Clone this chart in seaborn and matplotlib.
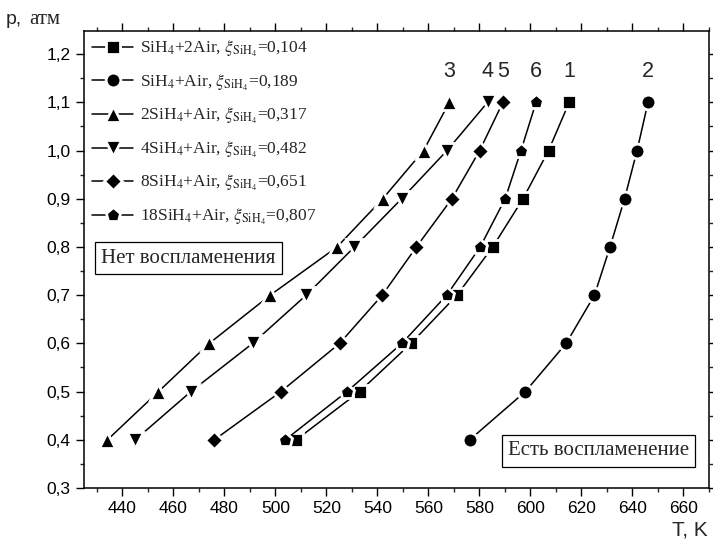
import numpy as np
import pandas as pd
import matplotlib
matplotlib.use("Agg")
import matplotlib.pyplot as plt
import seaborn as sns
from matplotlib.ticker import MultipleLocator, FuncFormatter

# ---- data ----
pressure = [0.4, 0.5, 0.6, 0.7, 0.8, 0.9, 1.0, 1.1]
T_1 = [508.2, 533.0, 553.2, 571.2, 585.2, 597.1, 607.1, 615.2]   # SiH4+2Air
T_2 = [576.2, 598.0, 614.0, 625.1, 631.2, 636.9, 641.8, 646.1]   # SiH4+Air
T_3 = [434.2, 454.2, 474.1, 498.0, 524.2, 542.1, 558.1, 568.2]   # 2SiH4+Air
T_4 = [445.1, 466.9, 491.1, 512.1, 531.0, 549.5, 567.3, 583.2]   # 4SiH4+Air
T_5 = [476.1, 502.2, 525.2, 541.9, 555.3, 569.2, 580.1, 589.2]   # 8SiH4+Air
T_6 = [503.9, 528.1, 549.6, 567.2, 580.3, 590.1, 596.3, 602.2]   # 18SiH4+Air
series_T = [T_1, T_2, T_3, T_4, T_5, T_6]
legend_labels = [
    r"SiH$_4$+2Air, $\xi_{\mathrm{SiH}_4}$=0,104",
    r"SiH$_4$+Air, $\xi_{\mathrm{SiH}_4}$=0,189",
    r"2SiH$_4$+Air, $\xi_{\mathrm{SiH}_4}$=0,317",
    r"4SiH$_4$+Air, $\xi_{\mathrm{SiH}_4}$=0,482",
    r"8SiH$_4$+Air, $\xi_{\mathrm{SiH}_4}$=0,651",
    r"18SiH$_4$+Air, $\xi_{\mathrm{SiH}_4}$=0,807",
]
curve_numbers = ["1", "2", "3", "4", "5", "6"]
series_markers = ["s", "o", "^", "v", "D", "p"]
x_ticks = [440, 460, 480, 500, 520, 540, 560, 580, 600, 620, 640, 660]
y_ticks = [0.3, 0.4, 0.5, 0.6, 0.7, 0.8, 0.9, 1.0, 1.1, 1.2]

rows = []
for k, Ts in enumerate(series_T):
    for p, t in zip(pressure, Ts):
        rows.append({"T": t, "p": p, "series": curve_numbers[k]})
df = pd.DataFrame(rows)

sns.set_style("ticks")
plt.rcParams["font.family"] = ["Liberation Sans", "DejaVu Sans"]
plt.rcParams["mathtext.fontset"] = "stix"

fig = plt.figure(figsize=(7.13, 5.46), dpi=100)
ax = fig.add_axes([84/713, 1-488/546, (709-84)/713, (488-31)/546])

sns.lineplot(data=df, x="T", y="p", hue="series", style="series",
             hue_order=curve_numbers, style_order=curve_numbers,
             palette=["black"]*6, markers=dict(zip(curve_numbers, series_markers)),
             dashes=False, sort=False, estimator=None, legend=False, ax=ax,
             linewidth=1.1, markeredgecolor="white", markeredgewidth=2.0)

msizes = [9.8, 10.6, 12.0, 12.0, 9.2, 11.2]
for ln, ms in zip(ax.lines[:6], msizes):
    ln.set_markersize(ms)

ax.set_xlim(425, 670)
ax.set_ylim(0.3, 1.248)
ax.set_xticks(x_ticks)
ax.set_yticks(y_ticks)
ax.xaxis.set_minor_locator(MultipleLocator(10))
ax.yaxis.set_minor_locator(MultipleLocator(0.05))
ax.yaxis.set_major_formatter(FuncFormatter(lambda v, pos: f"{v:.1f}".replace(".", ",")))
ax.tick_params(which="major", direction="out", length=6, width=1.0, labelsize=12.5, colors="black")
ax.tick_params(which="minor", direction="out", length=3, width=1.0)
ax.tick_params(which="both", top=True, right=True, labeltop=False, labelright=False)
for s in ax.spines.values():
    s.set_linewidth(1.1)
    s.set_color("black")
ax.set_xlabel("")
ax.set_ylabel("")

# curve numbers
for k, Ts in enumerate(series_T):
    ax.text(Ts[-1], 1.165, curve_numbers[k], ha="center", va="center", fontsize=15.5)

serif = ["Liberation Serif", "DejaVu Serif"]
leg = ax.legend(handles=ax.lines[:6], labels=legend_labels, loc="upper left",
                frameon=False, prop={"family": serif, "size": 12.5},
                handlelength=2.4, handletextpad=0.4, labelspacing=0.78,
                borderaxespad=0.2, borderpad=0.25)

ax.text(466.0, 0.7766, "Нет воспламенения", ha="center", va="center", family=serif,
        fontsize=15, bbox=dict(boxstyle="square,pad=0.3", fc="white", ec="black", lw=0.9))
ax.text(626.7, 0.377, "Есть воспламенение", ha="center", va="center", family=serif,
        fontsize=15, bbox=dict(boxstyle="square,pad=0.3", fc="white", ec="black", lw=0.9))

fig.text(6/713, 1-19/546, "p,", ha="left", va="center", fontsize=14)
fig.text(29/713, 1-19/546, "атм", ha="left", va="center", fontsize=15, family=serif)
fig.text(708/713, 1-530/546, "T, K", ha="right", va="center", fontsize=15)

fig.savefig("out.png", dpi=100)
